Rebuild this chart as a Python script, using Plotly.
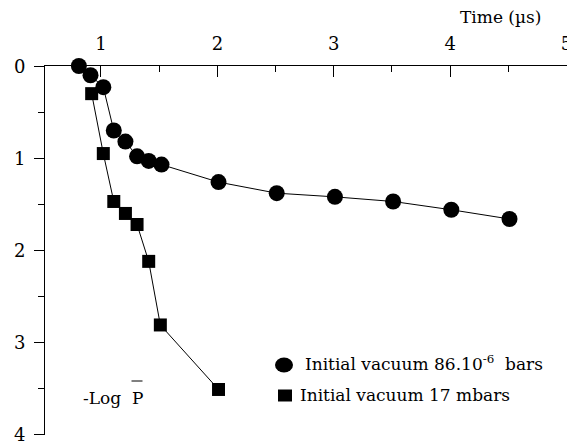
import plotly.graph_objects as go

# Time (µs) and -log of mean pressure for the two initial vacuum conditions
t_low = [0.81, 0.91, 1.02, 1.11, 1.21, 1.31, 1.41, 1.52, 2.01, 2.51, 3.01, 3.51, 4.01, 4.51]
p_low = [0.00, 0.10, 0.23, 0.70, 0.82, 0.98, 1.03, 1.07, 1.26, 1.38, 1.42, 1.47, 1.56, 1.66]

t_high = [0.92, 1.02, 1.11, 1.21, 1.31, 1.41, 1.51, 2.01]
p_high = [0.30, 0.95, 1.47, 1.60, 1.72, 2.12, 2.81, 3.51]

x_ticks = [1, 2, 3, 4, 5]
y_ticks = [0, 1, 2, 3, 4]

FONT = "DejaVu Serif"
FS_TICK = 18
FS_TEXT = 17

fig = go.Figure()
fig.add_trace(go.Scatter(
    x=t_low, y=p_low, mode="lines+markers",
    line=dict(color="black", width=1),
    marker=dict(symbol="circle", size=16, color="black"),
    cliponaxis=False, showlegend=False,
))
fig.add_trace(go.Scatter(
    x=t_high, y=p_high, mode="lines+markers",
    line=dict(color="black", width=1),
    marker=dict(symbol="square", size=13, color="black"),
    cliponaxis=False, showlegend=False,
))

W, H = 567, 444
L, R, T, B = 45, 0, 66, 9
PW, PH = W - L - R, H - T - B


def px(x):
    return (x - L) / PW


def py(y):
    return (H - B - y) / PH


annos = [
    dict(text="Time (µs)", x=px(500), y=py(17), xanchor="center"),
    dict(text="-Log", x=px(81), y=py(398), xanchor="left"),
    dict(text="P", x=px(137), y=py(398), xanchor="center"),
    dict(text="Initial vacuum 86.10<sup>-6</sup>  bars", x=px(303), y=py(363), xanchor="left"),
    dict(text="Initial vacuum 17 mbars", x=px(298), y=py(395), xanchor="left"),
]
for a in annos:
    fig.add_annotation(
        xref="paper", yref="paper", showarrow=False,
        xanchor=a["xanchor"], yanchor="middle",
        x=a["x"], y=a["y"], text=a["text"],
        font=dict(family=FONT, size=FS_TEXT, color="black"),
    )

# y tick labels, placed left of the outside ticks
for v in y_ticks:
    fig.add_annotation(
        xref="paper", yref="y", showarrow=False,
        xanchor="right", yanchor="middle",
        x=px(27), y=v, text=str(v),
        font=dict(family=FONT, size=FS_TICK, color="black"),
    )

# bar over the P of the axis title
fig.add_shape(type="line", xref="paper", yref="paper",
              x0=px(131.5), x1=px(142.5), y0=py(381), y1=py(381),
              line=dict(color="black", width=1))

# legend keys
fig.add_shape(type="circle", xref="paper", yref="paper",
              x0=px(275), x1=px(293), y0=py(357.5), y1=py(372.5),
              fillcolor="black", line=dict(width=0))
fig.add_shape(type="rect", xref="paper", yref="paper",
              x0=px(278), x1=px(292), y0=py(389.5), y1=py(401.5),
              fillcolor="black", line=dict(width=0))

fig.update_xaxes(
    side="top", range=[0.519, 5.004], automargin=False,
    tickmode="array", tickvals=x_ticks, ticktext=[str(v) for v in x_ticks],
    ticks="inside", ticklen=11, tickwidth=1, tickcolor="black",
    minor=dict(tickmode="array", tickvals=[1.5, 2.5, 3.5, 4.5],
               ticks="inside", ticklen=6, tickwidth=1, tickcolor="black"),
    showline=True, linecolor="black", linewidth=1,
    showgrid=False, zeroline=False,
    ticklabelstandoff=8, ticklabeloverflow="allow",
    tickfont=dict(family=FONT, size=FS_TICK, color="black"),
)
fig.update_yaxes(
    range=[4.004, 0], automargin=False,
    tickmode="array", tickvals=y_ticks, showticklabels=False,
    ticks="outside", ticklen=10, tickwidth=1, tickcolor="black",
    minor=dict(tickmode="array", tickvals=[0.5, 1.5, 2.5, 3.5],
               ticks="outside", ticklen=6, tickwidth=1, tickcolor="black"),
    showline=True, linecolor="black", linewidth=1,
    showgrid=False, zeroline=False,
)

fig.update_layout(
    width=W, height=H,
    margin=dict(l=L, r=R, t=T, b=B, pad=0),
    paper_bgcolor="white", plot_bgcolor="white",
    font=dict(family=FONT, size=FS_TEXT, color="black"),
    showlegend=False,
)

fig.write_html("out.html")
